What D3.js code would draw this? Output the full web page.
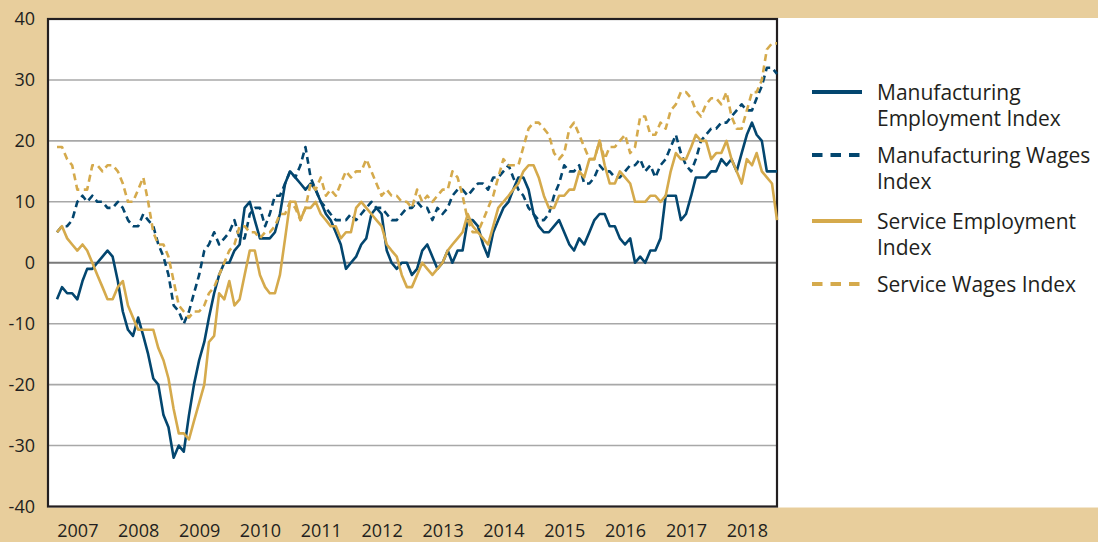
<!DOCTYPE html>
<html>
<head>
<meta charset="utf-8">
<script src="https://cdn.jsdelivr.net/npm/d3@7"></script>
<style>
  body { margin: 0; background: #e8ce9c; }
  svg { display: block; font-family: "Open Sans", sans-serif; }
</style>
</head>
<body>
<svg width="1098" height="542"></svg>
<script>
// monthly index values, Sep 2006 - Jul 2018
const mfgEmp = [
  -6, -4, -5, -5, -6, -3, -1, -1, 0, 1, 2, 1,
  -3, -8, -11, -12, -9, -12, -15, -19, -20, -25, -27, -32,
  -30, -31, -25, -20, -16, -13, -9, -5, -2, 0, 0, 2,
  3, 9, 10, 7, 4, 4, 4, 5, 8, 13, 15, 14,
  13, 12, 13, 12, 10, 8, 7, 5, 3, -1, 0, 1,
  3, 4, 8, 9, 8, 2, 0, -1, 0, 0, -2, -1,
  2, 3, 1, -1, 0, 2, 0, 2, 2, 7, 7, 6,
  3, 1, 5, 7, 9, 10, 12, 14, 14, 12, 8, 6,
  5, 5, 6, 7, 5, 3, 2, 4, 3, 5, 7, 8,
  8, 6, 6, 4, 3, 4, 0, 1, 0, 2, 2, 4,
  11, 11, 11, 7, 8, 11, 14, 14, 14, 15, 15, 17,
  16, 17, 15, 18, 21, 23, 21, 20, 15, 15, 15
];
const mfgWage = [
  5, 6, 6, 7, 10, 11, 10, 11, 10, 10, 9, 9,
  10, 9, 7, 6, 6, 8, 7, 6, 3, 1, -2, -7,
  -8, -10, -8, -5, -2, 2, 3, 5, 3, 4, 5, 7,
  4, 4, 8, 9, 9, 6, 8, 11, 11, 13, 15, 14,
  16, 19, 14, 12, 10, 9, 8, 7, 7, 7, 8, 7,
  8, 9, 10, 9, 9, 8, 7, 7, 8, 9, 9, 10,
  9, 9, 7, 9, 8, 9, 11, 12, 12, 11, 12, 13,
  13, 12, 14, 14, 15, 16, 14, 12, 11, 9, 8, 7,
  7, 8, 11, 13, 16, 15, 15, 16, 13, 13, 14, 16,
  15, 15, 14, 14, 15, 16, 16, 17, 15, 16, 14, 16,
  17, 19, 21, 18, 16, 15, 17, 20, 21, 22, 22, 23,
  23, 24, 25, 26, 25, 25, 27, 29, 32, 32, 31
];
const svcEmp = [
  5, 6, 4, 3, 2, 3, 2, 0, -2, -4, -6, -6,
  -4, -3, -7, -9, -11, -11, -11, -11, -14, -16, -19, -24,
  -28, -28, -29, -26, -23, -20, -13, -12, -5, -6, -3, -7,
  -6, -2, 2, 2, -2, -4, -5, -5, -2, 4, 10, 10,
  7, 9, 9, 10, 8, 7, 6, 6, 4, 5, 5, 9,
  10, 9, 8, 7, 6, 3, 2, 1, -2, -4, -4, -2,
  0, -1, -2, -1, 0, 2, 3, 4, 5, 8, 6, 5,
  4, 3, 6, 9, 10, 11, 12, 13, 15, 16, 16, 14,
  11, 9, 9, 11, 11, 12, 12, 15, 14, 17, 17, 20,
  16, 13, 13, 15, 14, 13, 10, 10, 10, 11, 11, 10,
  11, 15, 18, 17, 17, 19, 21, 20, 20, 17, 18, 18,
  20, 17, 15, 13, 17, 16, 18, 15, 14, 13, 7
];
const svcWage = [
  19, 19, 17, 16, 12, 12, 12, 16, 16, 15, 16, 16,
  15, 13, 10, 10, 12, 14, 10, 5, 3, 3, 1, -3,
  -7, -8, -9, -8, -8, -7, -5, -4, -2, 0, 2, 3,
  6, 6, 5, 5, 4, 5, 5, 6, 8, 8, 10, 9,
  7, 9, 13, 12, 14, 11, 12, 11, 13, 15, 14, 15,
  15, 17, 15, 13, 11, 12, 11, 11, 10, 10, 9, 12,
  10, 11, 10, 11, 12, 12, 15, 14, 11, 7, 5, 5,
  7, 9, 11, 14, 17, 16, 16, 16, 19, 22, 23, 23,
  22, 21, 18, 17, 18, 22, 23, 21, 19, 17, 17, 20,
  17, 19, 19, 20, 21, 18, 19, 24, 24, 21, 21, 23,
  22, 25, 26, 28, 28, 27, 25, 24, 26, 27, 27, 26,
  28, 24, 22, 22, 25, 28, 28, 30, 35, 36, 36
];

const seriesLabels = [
  ["Manufacturing", "Employment Index"],
  ["Manufacturing Wages", "Index"],
  ["Service Employment", "Index"],
  ["Service Wages Index"]
];
const yTicks = [-40, -30, -20, -10, 0, 10, 20, 30, 40];
const yearLabels = ["2007", "2008", "2009", "2010", "2011", "2012", "2013", "2014", "2015", "2016", "2017", "2018"];

const navy = "#03466f";
const gold = "#d5aa4c";

const series = [
  { label: seriesLabels[0], values: mfgEmp, color: navy, dash: null },
  { label: seriesLabels[1], values: mfgWage, color: navy, dash: "7,4.5" },
  { label: seriesLabels[2], values: svcEmp, color: gold, dash: null },
  { label: seriesLabels[3], values: svcWage, color: gold, dash: "7,4.5" }
];

const svg = d3.select("svg");
const plot = { left: 48, top: 19, right: 777, bottom: 506.5 };

const start = new Date(2006, 8, 1);
const months = mfgEmp.map((d, i) => d3.timeMonth.offset(start, i));

const x = d3.scaleTime()
  .domain([months[0], months[months.length - 1]])
  .range([57, 777]);
const y = d3.scaleLinear()
  .domain([-40, 40])
  .range([plot.bottom, plot.top]);

// white panel behind plot + legend
svg.append("rect")
  .attr("x", plot.left)
  .attr("y", 18)
  .attr("width", 1098 - plot.left)
  .attr("height", 507.5 - 18)
  .attr("fill", "#fff");

// gridlines
svg.append("g")
  .selectAll("line")
  .data(yTicks.filter(d => d > -40 && d < 40))
  .enter()
  .append("line")
  .attr("x1", plot.left)
  .attr("x2", plot.right)
  .attr("y1", d => y(d))
  .attr("y2", d => y(d))
  .attr("stroke", d => d === 0 ? "#7a7a7a" : "#a8a8a8")
  .attr("stroke-width", d => d === 0 ? 2 : 1.6);

// axes (labels only)
const yAxis = svg.append("g")
  .attr("transform", `translate(${plot.left},0)`)
  .call(d3.axisLeft(y).tickValues(yTicks).tickSize(0).tickPadding(13)
    .tickFormat(d => String(d)));
yAxis.select(".domain").remove();
yAxis.selectAll("text")
  .attr("font-size", 18)
  .attr("font-family", "Open Sans, sans-serif")
  .attr("fill", "#231f20");

const yearDates = yearLabels.map(s => new Date(+s, 0, 1));
const xAxis = svg.append("g")
  .attr("transform", `translate(0,${plot.bottom})`)
  .call(d3.axisBottom(x).tickValues(yearDates).tickSize(0).tickPadding(17.5)
    .tickFormat(d3.timeFormat("%Y")));
xAxis.select(".domain").remove();
xAxis.selectAll("text")
  .attr("font-size", 18)
  .attr("font-family", "Open Sans, sans-serif")
  .attr("fill", "#231f20");

// plot frame
svg.append("rect")
  .attr("x", plot.left)
  .attr("y", plot.top)
  .attr("width", plot.right - plot.left)
  .attr("height", plot.bottom - plot.top)
  .attr("fill", "none")
  .attr("stroke", "#231f20")
  .attr("stroke-width", 2.2);

// lines
const line = d3.line()
  .x((d, i) => x(months[i]))
  .y(d => y(d));

svg.append("g")
  .selectAll("path")
  .data(series)
  .enter()
  .append("path")
  .attr("d", d => line(d.values))
  .attr("fill", "none")
  .attr("stroke", d => d.color)
  .attr("stroke-width", 2.6)
  .attr("stroke-linejoin", "round")
  .attr("stroke-dasharray", d => d.dash);

// legend
const legendY = [92, 155, 221, 284];
const legend = svg.append("g")
  .selectAll("g")
  .data(series)
  .enter()
  .append("g")
  .attr("transform", (d, i) => `translate(0,${legendY[i]})`);

legend.append("line")
  .attr("x1", 812)
  .attr("x2", 862)
  .attr("stroke", d => d.color)
  .attr("stroke-width", 4)
  .attr("stroke-dasharray", d => d.dash ? "10.5,8" : null);

legend.append("text")
  .attr("x", 877)
  .attr("y", 8)
  .attr("font-size", 21)
  .attr("fill", "#231f20")
  .selectAll("tspan")
  .data(d => d.label)
  .enter()
  .append("tspan")
  .attr("x", 877)
  .attr("dy", (d, i) => i === 0 ? 0 : 26)
  .text(d => d);
</script>
</body>
</html>
